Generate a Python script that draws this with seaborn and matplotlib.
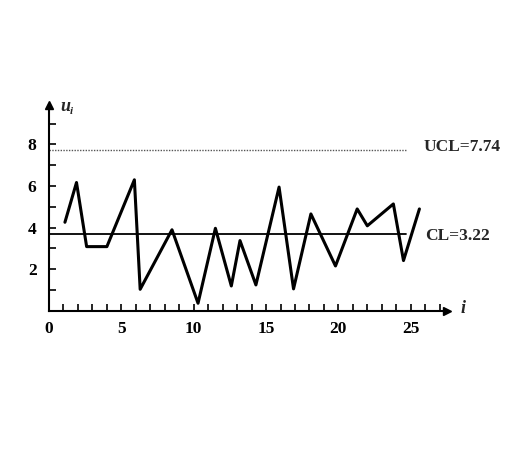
import numpy as np
import pandas as pd
import matplotlib
matplotlib.use("Agg")
import matplotlib.pyplot as plt
from matplotlib.ticker import MultipleLocator
import seaborn as sns

# dati (punti del tracciato u_i)
campioni = [1.1, 1.9, 2.6, 4.0, 5.9, 6.3, 8.5, 10.3, 11.5, 12.6, 13.2, 14.3,
            15.9, 16.9, 18.1, 19.8, 21.3, 22.0, 23.8, 24.5, 25.6]
u_valori = [4.26, 6.17, 3.09, 3.09, 6.3, 1.04, 3.9, 0.37, 3.97, 1.2, 3.38, 1.25,
            5.95, 1.06, 4.66, 2.16, 4.9, 4.09, 5.14, 2.42, 4.9]
ucl = 7.74
cl_linea = 3.7          # posizione disegnata della linea centrale
etichette = ["UCL=7.74", "CL=3.22"]

sns.set_style("ticks")
plt.rcParams["font.family"] = ["Liberation Serif", "DejaVu Serif"]

df = pd.DataFrame({"i": campioni, "u": u_valori})

fig = plt.figure(figsize=(5.27, 4.5), dpi=100)
ax = fig.add_axes([0.093, 0.309, 0.755, 0.458])

sns.lineplot(data=df, x="i", y="u", sort=False, color="black", linewidth=2.2, ax=ax)

# linee di controllo
ax.plot([0, 24.7], [ucl, ucl], color="#555555", linestyle=(0, (1, 1)), linewidth=1.0)
ax.plot([0, 24.7], [cl_linea, cl_linea], color="black", linewidth=1.3)
ax.text(25.9, ucl + 0.15, etichette[0], fontsize=12.5, fontweight="bold", va="center", ha="left")
ax.text(26.0, cl_linea - 0.1, etichette[1], fontsize=12.5, fontweight="bold", va="center", ha="left")

ax.set_xlim(0, 27.5)
ax.set_ylim(0, 9.9)
ax.xaxis.set_major_locator(MultipleLocator(5))
ax.xaxis.set_minor_locator(MultipleLocator(1))
ax.yaxis.set_minor_locator(MultipleLocator(1))
ax.set_yticks([2, 4, 6, 8])
ax.tick_params(which="both", direction="in", length=5, width=1.2, colors="black")
ax.tick_params(axis="both", which="major", labelsize=12.5)
ax.tick_params(axis="y", which="major", pad=9)
ax.tick_params(axis="x", which="major", pad=7)
for lab in ax.get_xticklabels() + ax.get_yticklabels():
    lab.set_fontweight("bold")

sns.despine(ax=ax)
for s in ["left", "bottom"]:
    ax.spines[s].set_linewidth(1.5)
    ax.spines[s].set_color("black")

# frecce degli assi
ax.plot(1, 0, ">k", markersize=6, transform=ax.get_yaxis_transform(), clip_on=False)
ax.plot(0, 1, "^k", markersize=6, transform=ax.get_xaxis_transform(), clip_on=False)

ax.set_xlabel("")
ax.set_ylabel("")
ax.text(0.8, 9.8, "u", fontsize=13, style="italic", fontweight="bold", ha="left", va="center")
ax.text(1.45, 9.6, "i", fontsize=8, style="italic", fontweight="bold", ha="left", va="center")
ax.text(28.6, 0.1, "i", fontsize=13, style="italic", fontweight="bold", ha="center", va="center")

plt.savefig("out.png", dpi=100)
